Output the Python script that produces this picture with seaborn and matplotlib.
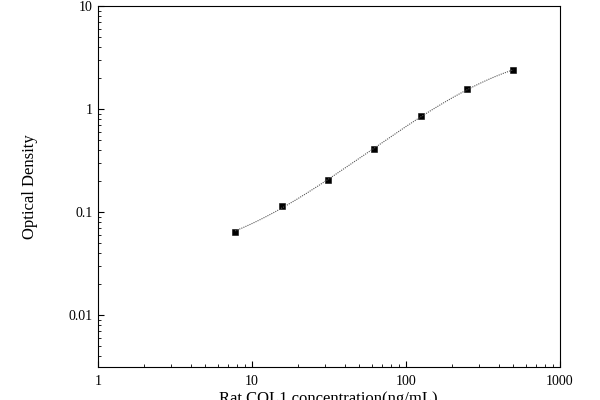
import numpy as np
import pandas as pd
import seaborn as sns
import matplotlib
matplotlib.use("Agg")
import matplotlib.pyplot as plt
from matplotlib.ticker import LogLocator, FuncFormatter

conc = [7.8, 15.6, 31.25, 62.5, 125, 250, 500]
od = [0.065, 0.114, 0.204, 0.41, 0.855, 1.56, 2.39]

plt.rcParams["font.family"] = "Liberation Serif"
fig = plt.figure(figsize=(6, 4), dpi=100)
ax = fig.add_axes([0.163, 0.0825, 0.77, 0.9025])

lx, ly = np.log10(conc), np.log10(od)
c = np.polyfit(lx, ly, 3)
xs = np.linspace(lx[0], lx[-1], 200)
fit = pd.DataFrame({"x": 10**xs, "y": 10**np.polyval(c, xs)})
sns.lineplot(data=fit, x="x", y="y", ax=ax, color="#555555", lw=0.8, ls=(0, (1, 1)))
sns.scatterplot(x=conc, y=od, ax=ax, marker="s", color="black", s=22, edgecolor="black")

ax.set_xscale("log"); ax.set_yscale("log")
ax.set_xlim(1, 1000); ax.set_ylim(0.00316, 10)
fmt = FuncFormatter(lambda v, p: f"{v:g}")
ax.xaxis.set_major_formatter(fmt); ax.yaxis.set_major_formatter(fmt)
ax.yaxis.set_major_locator(LogLocator(base=10, numticks=10))
ax.xaxis.set_minor_locator(LogLocator(base=10, subs=np.arange(2, 10), numticks=10))
ax.yaxis.set_minor_locator(LogLocator(base=10, subs=np.arange(2, 10), numticks=10))
ax.tick_params(which="both", direction="in", labelsize=10)
ax.tick_params(axis="x", which="both", pad=6)
ax.tick_params(which="major", length=4)
ax.tick_params(which="minor", length=2)
ax.set_xlabel("Rat COL1 concentration(ng/mL)", fontsize=12, labelpad=2)
ax.set_ylabel("Optical Density", fontsize=12, labelpad=22)
fig.savefig("out.png", dpi=100)
